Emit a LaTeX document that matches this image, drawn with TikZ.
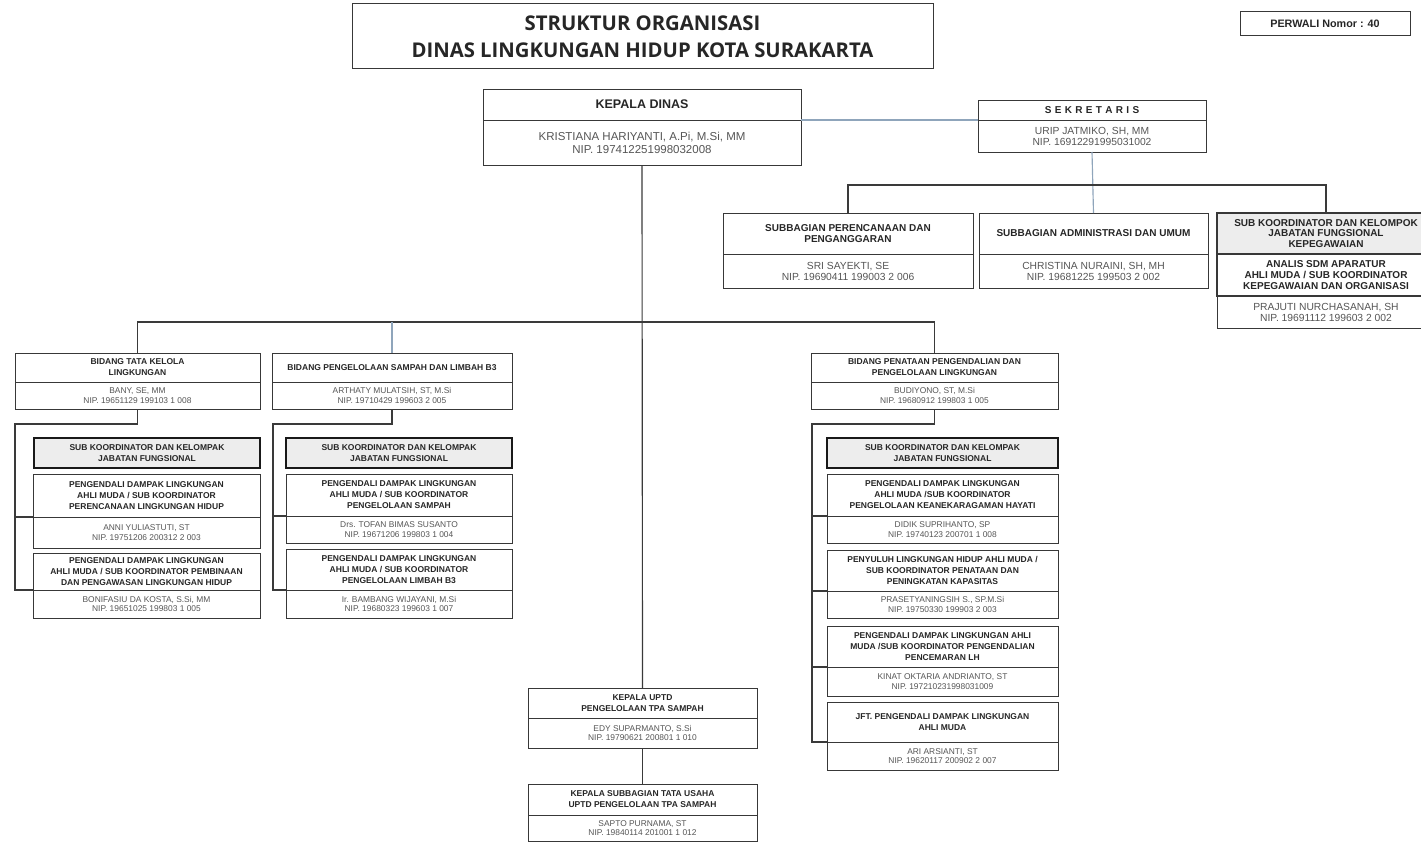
\documentclass[tikz,border=0pt]{standalone}
\usepackage{fontspec}
\setmainfont{Liberation Sans}
\newfontfamily\titlefont{Open Sans}
\usetikzlibrary{positioning}

\definecolor{boxline}{HTML}{383838}
\definecolor{linkline}{HTML}{3A3A3A}
\definecolor{linkblue}{HTML}{8FA5BB}
\definecolor{nametext}{HTML}{555555}
\definecolor{skfill}{HTML}{EDEDED}

\newcommand{\ttlsize}{\fontsize{20.3}{27}\selectfont\bfseries\titlefont}
\newcommand{\kdfont}{\fontsize{12.5}{14}\selectfont\bfseries}
\newcommand{\kdname}{\fontsize{11.5}{13}\selectfont}
\newcommand{\hdtop}{\fontsize{10}{10.8}\selectfont\bfseries}
\newcommand{\nmtop}{\fontsize{10.3}{11}\selectfont}
\newcommand{\hdsmall}{\fontsize{8.5}{11}\selectfont\bfseries}
\newcommand{\nmsmall}{\fontsize{8.4}{9.6}\selectfont}

\begin{document}
\begin{tikzpicture}[x=1pt, y=-1pt,
    hd/.style={draw=boxline, line width=1pt, inner sep=1pt, outer sep=0pt, align=center, text=black!85},
    nm/.style={draw=boxline, line width=1pt, inner sep=1pt, outer sep=0pt, align=center, text=nametext},
    sk/.style={fill=skfill, draw=black!90, line width=2.2pt},
    link/.style={draw=linkline, line width=1.15pt},
    blink/.style={draw=linkblue, line width=1.15pt}
]
\useasboundingbox (0,0) rectangle (1421,843);

% judul
\node[hd, font=\ttlsize, minimum width=581pt, minimum height=65pt, anchor=north west] (title) at (352,4)
    {STRUKTUR ORGANISASI\\DINAS LINGKUNGAN HIDUP KOTA SURAKARTA};
\node[hd, font=\fontsize{10.8}{12}\selectfont\bfseries, minimum width=170pt, minimum height=24pt, anchor=north west] (perwali) at (1240,12)
    {PERWALI Nomor : 40};

% kepala dinas dan sekretaris
\node[hd, font=\kdfont, minimum width=318pt, minimum height=31pt, anchor=north west] (kdh) at (483,89) {KEPALA DINAS};
\node[nm, font=\kdname, minimum width=318pt, minimum height=45pt, below=0pt of kdh] (kdn)
    {KRISTIANA HARIYANTI, A.Pi, M.Si, MM\\NIP. 197412251998032008};
\node[hd, font=\hdtop, minimum width=228pt, minimum height=20pt, anchor=north west] (sekh) at (978,100) {S\,\,E\,\,K\,\,R\,\,E\,\,T\,\,A\,\,R\,\,I\,\,S};
\node[nm, font=\nmtop, minimum width=228pt, minimum height=32pt, below=0pt of sekh] (sekn)
    {URIP JATMIKO, SH, MM\\NIP. 16912291995031002};

% subbagian sekretariat
\node[hd, font=\hdtop, minimum width=250pt, minimum height=41pt, anchor=north west] (sb1h) at (723,213)
    {SUBBAGIAN PERENCANAAN DAN\\PENGANGGARAN};
\node[nm, font=\nmtop, minimum width=250pt, minimum height=34pt, below=0pt of sb1h] (sb1n)
    {SRI SAYEKTI, SE\\NIP. 19690411 199003 2 006};
\node[hd, font=\hdtop, minimum width=229pt, minimum height=41pt, anchor=north west] (sb2h) at (979,213)
    {SUBBAGIAN ADMINISTRASI DAN UMUM};
\node[nm, font=\nmtop, minimum width=229pt, minimum height=34pt, below=0pt of sb2h] (sb2n)
    {CHRISTINA NURAINI, SH, MH\\NIP. 19681225 199503 2 002};
\node[hd, fill=skfill, line width=1.8pt, font=\hdtop, minimum width=218pt, minimum height=41pt, anchor=north west] (sb3h) at (1217,213)
    {SUB KOORDINATOR DAN KELOMPOK\\JABATAN FUNGSIONAL\\KEPEGAWAIAN};
\node[hd, line width=1.8pt, font=\hdtop, minimum width=218pt, minimum height=42pt, below=0pt of sb3h] (sb3m)
    {ANALIS SDM APARATUR\\AHLI MUDA / SUB KOORDINATOR\\KEPEGAWAIAN DAN ORGANISASI};
\node[nm, font=\nmtop, minimum width=218pt, minimum height=32pt, below=0pt of sb3m] (sb3n)
    {PRAJUTI NURCHASANAH, SH\\NIP. 19691112 199603 2 002};

% bidang tata kelola
\node[hd, font=\hdsmall, minimum width=245pt, minimum height=29pt, anchor=north west] (bid1h) at (15,353)
    {BIDANG TATA KELOLA\\LINGKUNGAN};
\node[nm, font=\nmsmall, minimum width=245pt, minimum height=27pt, below=0pt of bid1h] (bid1n)
    {BANY, SE, MM\\NIP. 19651129 199103 1 008};
\node[hd, sk, font=\hdsmall, minimum width=226pt, minimum height=30pt, anchor=north west] (sk1) at (34,438)
    {SUB KOORDINATOR DAN KELOMPAK\\JABATAN FUNGSIONAL};
\node[hd, font=\hdsmall, minimum width=227pt, minimum height=43pt, anchor=north west] (p1h) at (33,474)
    {PENGENDALI DAMPAK LINGKUNGAN\\AHLI MUDA / SUB KOORDINATOR\\PERENCANAAN LINGKUNGAN HIDUP};
\node[nm, font=\nmsmall, minimum width=227pt, minimum height=31pt, below=0pt of p1h] (p1n)
    {ANNI YULIASTUTI, ST\\NIP. 19751206 200312 2 003};
\node[hd, font=\hdsmall, minimum width=227pt, minimum height=37pt, anchor=north west] (p2h) at (33,553)
    {PENGENDALI DAMPAK LINGKUNGAN\\AHLI MUDA / SUB KOORDINATOR PEMBINAAN\\DAN PENGAWASAN LINGKUNGAN HIDUP};
\node[nm, font=\nmsmall, minimum width=227pt, minimum height=28pt, below=0pt of p2h] (p2n)
    {BONIFASIU DA KOSTA, S.Si, MM\\NIP. 19651025 199803 1 005};

% bidang sampah dan limbah
\node[hd, font=\hdsmall, minimum width=240pt, minimum height=29pt, anchor=north west] (bid2h) at (272,353)
    {BIDANG PENGELOLAAN SAMPAH DAN LIMBAH B3};
\node[nm, font=\nmsmall, minimum width=240pt, minimum height=27pt, below=0pt of bid2h] (bid2n)
    {ARTHATY MULATSIH, ST, M.Si\\NIP. 19710429 199603 2 005};
\node[hd, sk, font=\hdsmall, minimum width=226pt, minimum height=30pt, anchor=north west] (sk2) at (286,438)
    {SUB KOORDINATOR DAN KELOMPAK\\JABATAN FUNGSIONAL};
\node[hd, font=\hdsmall, minimum width=226pt, minimum height=42pt, anchor=north west] (q1h) at (286,474)
    {PENGENDALI DAMPAK LINGKUNGAN\\AHLI MUDA / SUB KOORDINATOR\\PENGELOLAAN SAMPAH};
\node[nm, font=\nmsmall, minimum width=226pt, minimum height=27pt, below=0pt of q1h] (q1n)
    {Drs. TOFAN BIMAS SUSANTO\\NIP. 19671206 199803 1 004};
\node[hd, font=\hdsmall, minimum width=226pt, minimum height=41pt, anchor=north west] (q2h) at (286,549)
    {PENGENDALI DAMPAK LINGKUNGAN\\AHLI MUDA / SUB KOORDINATOR\\PENGELOLAAN LIMBAH B3};
\node[nm, font=\nmsmall, minimum width=226pt, minimum height=28pt, below=0pt of q2h] (q2n)
    {Ir. BAMBANG WIJAYANI, M.Si\\NIP. 19680323 199603 1 007};

% bidang penataan
\node[hd, font=\hdsmall, minimum width=247pt, minimum height=29pt, anchor=north west] (bid3h) at (811,353)
    {BIDANG PENATAAN PENGENDALIAN DAN\\PENGELOLAAN LINGKUNGAN};
\node[nm, font=\nmsmall, minimum width=247pt, minimum height=27pt, below=0pt of bid3h] (bid3n)
    {BUDIYONO, ST, M.Si\\NIP. 19680912 199803 1 005};
\node[hd, sk, font=\hdsmall, minimum width=231pt, minimum height=30pt, anchor=north west] (sk3) at (827,438)
    {SUB KOORDINATOR DAN KELOMPAK\\JABATAN FUNGSIONAL};
\node[hd, font=\hdsmall, minimum width=231pt, minimum height=42pt, anchor=north west] (r1h) at (827,474)
    {PENGENDALI DAMPAK LINGKUNGAN\\AHLI MUDA /SUB KOORDINATOR\\PENGELOLAAN KEANEKARAGAMAN HAYATI};
\node[nm, font=\nmsmall, minimum width=231pt, minimum height=27pt, below=0pt of r1h] (r1n)
    {DIDIK SUPRIHANTO, SP\\NIP. 19740123 200701 1 008};
\node[hd, font=\hdsmall, minimum width=231pt, minimum height=41pt, anchor=north west] (r2h) at (827,550)
    {PENYULUH LINGKUNGAN HIDUP AHLI MUDA /\\SUB KOORDINATOR PENATAAN DAN\\PENINGKATAN KAPASITAS};
\node[nm, font=\nmsmall, minimum width=231pt, minimum height=27pt, below=0pt of r2h] (r2n)
    {PRASETYANINGSIH S., SP.M.Si\\NIP. 19750330 199903 2 003};
\node[hd, font=\hdsmall, minimum width=231pt, minimum height=41pt, anchor=north west] (r3h) at (827,626)
    {PENGENDALI DAMPAK LINGKUNGAN AHLI\\MUDA /SUB KOORDINATOR PENGENDALIAN\\PENCEMARAN LH};
\node[nm, font=\nmsmall, minimum width=231pt, minimum height=29pt, below=0pt of r3h] (r3n)
    {KINAT OKTARIA ANDRIANTO, ST\\NIP. 197210231998031009};
\node[hd, font=\hdsmall, minimum width=231pt, minimum height=40pt, anchor=north west] (r4h) at (827,702)
    {JFT. PENGENDALI DAMPAK LINGKUNGAN\\AHLI MUDA};
\node[nm, font=\nmsmall, minimum width=231pt, minimum height=28pt, below=0pt of r4h] (r4n)
    {ARI ARSIANTI, ST\\NIP. 19620117 200902 2 007};

% uptd
\node[hd, font=\hdsmall, minimum width=229pt, minimum height=30pt, anchor=north west] (up1h) at (528,688)
    {KEPALA UPTD\\PENGELOLAAN TPA SAMPAH};
\node[nm, font=\nmsmall, minimum width=229pt, minimum height=30pt, below=0pt of up1h] (up1n)
    {EDY SUPARMANTO, S.Si\\NIP. 19790621 200801 1 010};
\node[hd, font=\hdsmall, minimum width=229pt, minimum height=31pt, anchor=north west] (up2h) at (528,784)
    {KEPALA SUBBAGIAN TATA USAHA\\UPTD PENGELOLAAN TPA SAMPAH};
\node[nm, font=\nmsmall, minimum width=229pt, minimum height=26pt, below=0pt of up2h] (up2n)
    {SAPTO PURNAMA, ST\\NIP. 19840114 201001 1 012};

% garis
\coordinate (sbus) at (1092,185);
\coordinate (mbus) at (642,322);
\coordinate (c1) at (15,424);
\coordinate (c2) at (273,424);
\coordinate (c3) at (812,424);

\draw[blink] (kdh.south east) -- (sekh.south west);
\draw[blink] (sekn.south) -- (sb2h.north);
\draw[link] (sb1h.north) |- (sbus) -| (sb3h.north);
\draw[link] (kdn.south) -- (up1h.north);
\draw[link] (bid1h.north) |- (mbus) -| (bid3h.north);
\draw[blink] (bid2h.north) -- (bid2h.north |- mbus);
\draw[link] (up1n.south) -- (up2h.north);

\draw[link] (bid1n.south) |- (c1) |- (p2h.south west);
\draw[link] (c1) |- (p1h.south west);
\draw[link] (bid2n.south) |- (c2) |- (q2h.south west);
\draw[link] (c2) |- (q1h.south west);
\draw[link] (bid3n.south) |- (c3) |- (r4h.south west);
\draw[link] (c3) |- (r1h.south west);
\draw[link] (c3) |- (r2h.south west);
\draw[link] (c3) |- (r3h.south west);
\end{tikzpicture}
\end{document}
